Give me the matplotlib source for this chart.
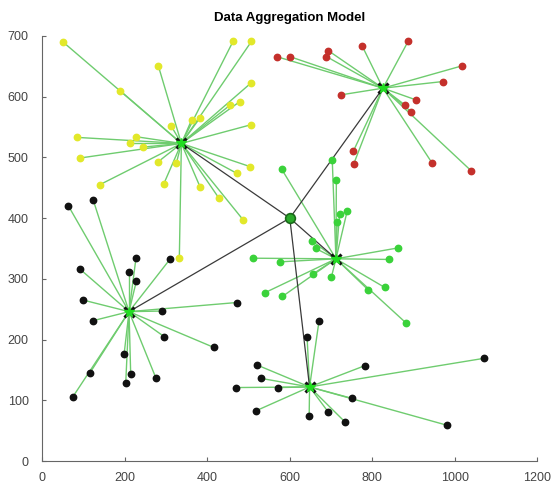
import matplotlib
matplotlib.use("Agg")
import matplotlib.pyplot as plt
import numpy as np

plt.rcParams['font.family'] = ['Liberation Sans', 'DejaVu Sans']

# base station in the middle
sink = (600, 400)

# cluster heads
head_x = [337, 826, 712, 210, 648]
head_y = [523, 614, 333, 246, 122]

# member nodes for each cluster
yellow_x = [50, 188, 281, 463, 507, 505, 479, 455, 382, 362, 313, 507, 83, 228, 212,
            244, 91, 281, 325, 503, 471, 139, 294, 382, 428, 487, 332]
yellow_y = [690, 610, 651, 692, 691, 622, 592, 586, 565, 562, 551, 554, 533, 534, 523,
            517, 499, 493, 491, 485, 474, 455, 456, 452, 433, 397, 334]

red_x = [568, 600, 693, 689, 776, 887, 1019, 972, 724, 905, 880, 895, 754, 755, 946, 1040]
red_y = [666, 666, 676, 666, 683, 691, 651, 625, 603, 595, 586, 575, 510, 489, 490, 478]

green_x = [580, 703, 713, 721, 739, 715, 653, 663, 511, 576, 863, 840, 656, 701, 539,
           582, 790, 830, 881]
green_y = [481, 496, 463, 407, 411, 394, 363, 350, 334, 328, 351, 332, 308, 303, 277,
           271, 282, 286, 228]

black1_x = [63, 123, 227, 309, 91, 210, 228, 99, 291, 471, 122, 295, 416, 198, 115,
            214, 202, 275, 73]
black1_y = [420, 430, 335, 332, 316, 312, 297, 265, 247, 261, 231, 205, 187, 176, 145,
            143, 129, 137, 105]

black2_x = [671, 642, 521, 782, 1070, 531, 572, 469, 752, 519, 647, 693, 733, 981]
black2_y = [231, 204, 158, 157, 169, 136, 121, 121, 103, 83, 74, 81, 65, 59]

clusters = [
    (yellow_x, yellow_y, '#e2e82a'),
    (red_x, red_y, '#c4302b'),
    (green_x, green_y, '#3ad23a'),
    (black1_x, black1_y, '#111111'),
    (black2_x, black2_y, '#111111'),
]

fig = plt.figure(figsize=(5.56, 4.86), dpi=100)
ax = fig.add_axes([0.0764, 0.0514, 0.8896, 0.8746])

line_col = '#6fcc6f'
for i, (xs, ys, col) in enumerate(clusters):
    for x, y in zip(xs, ys):
        ax.plot([x, head_x[i]], [y, head_y[i]], color=line_col, lw=1.0, zorder=1)

for hx, hy in zip(head_x, head_y):
    ax.plot([sink[0], hx], [sink[1], hy], color='#3a3a3a', lw=0.9, zorder=2)

for xs, ys, col in clusters:
    ax.plot(xs, ys, 'o', color=col, ms=4.6, mec=col, zorder=3)

ax.plot(head_x, head_y, 'x', color='#111111', ms=7, mew=2.2, zorder=4)
ax.plot(head_x, head_y, '*', color='#22dd22', ms=7, zorder=5)
ax.plot(sink[0], sink[1], 'o', color='#2aaa2a', mec='#1a6b1a', ms=7, mew=1.2, zorder=5)

ax.set_xlim(0, 1200)
ax.set_ylim(0, 700)
ax.set_xticks(np.arange(0, 1201, 200))
ax.set_yticks(np.arange(0, 701, 100))
for s in ['top', 'right']:
    ax.spines[s].set_visible(False)
for s in ['left', 'bottom']:
    ax.spines[s].set_color('#666666')
ax.tick_params(direction='in', length=3, colors='#666666', labelsize=9,
               labelcolor='#444444')
ax.tick_params(axis='x', pad=8)
ax.tick_params(axis='y', pad=10)
ax.set_title('Data Aggregation Model', fontsize=9.5, fontweight='bold', pad=11)

fig.savefig('out.png', dpi=100)
